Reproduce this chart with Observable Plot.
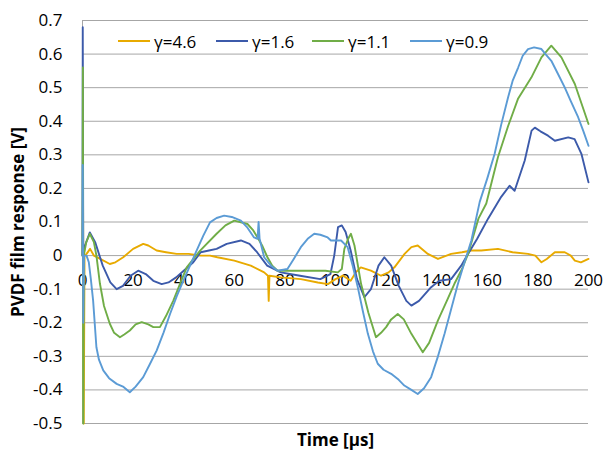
<!DOCTYPE html>
<html><head><meta charset="utf-8">
<script src="https://cdn.jsdelivr.net/npm/d3@7"></script>
<script src="https://cdn.jsdelivr.net/npm/@observablehq/plot@0.6"></script>
<style>
body{margin:0;background:#fff;font-family:"Open Sans",sans-serif;}
#wrap{position:relative;width:603px;height:452px;}
.item{position:absolute;top:29px;height:24px;display:flex;align-items:center;font-size:17px;color:#000;white-space:nowrap;}
.item span.sw{display:inline-block;width:32px;height:2px;margin-right:4px;}
</style></head><body><div id="wrap"></div><script>
const xTicks = [0,20,40,60,80,100,120,140,160,180,200];
const yTicks = [-0.5,-0.4,-0.3,-0.2,-0.1,0,0.1,0.2,0.3,0.4,0.5,0.6,0.7];
const seriesNames = ["γ=4.6","γ=1.6","γ=1.1","γ=0.9"];
const seriesColors = ["#E8AA00","#3C5AAA","#70AD47","#5B9BD5"];

const gamma46 = [[0,0],[0.2,0.2],[0.5,-0.5],[0.8,0.0],[1.6,0.005],[3,0.02],[4.5,0.0],[7,-0.01],[10.8,-0.025],[13,-0.02],[16.1,-0.005],[20,0.02],[24,0.035],[26,0.03],[29.3,0.015],[33,0.01],[37.2,0.005],[42,0.005],[46.7,0.0],[50.4,0.0],[53.3,-0.005],[60,-0.015],[66.5,-0.03],[71.8,-0.05],[73.3,-0.06],[73.6,-0.135],[73.9,-0.06],[78.4,-0.065],[86.3,-0.07],[93,-0.08],[97,-0.085],[100,-0.07],[103,-0.06],[106,-0.075],[108,-0.05],[110,-0.035],[114,-0.045],[118,-0.06],[121,-0.05],[123.3,-0.035],[127.3,0.005],[130,0.025],[132.5,0.03],[136.5,0.005],[140.5,-0.01],[145.7,0.005],[150,0.01],[153.7,0.015],[157.6,0.015],[164.2,0.02],[170,0.01],[176.1,0.005],[179,0.0],[181.4,-0.02],[183.5,-0.01],[186.7,0.01],[190.6,0.01],[193,0.0],[194.6,-0.015],[197,-0.02],[200,-0.01]];

const gamma16 = [[0,0],[0.1,0.68],[0.3,0.0],[1,0.03],[2.9,0.069],[5,0.04],[8,-0.03],[11,-0.08],[13.5,-0.1],[16,-0.09],[19,-0.06],[22,-0.045],[25,-0.055],[28,-0.075],[31.3,-0.085],[34,-0.08],[37,-0.065],[40,-0.045],[43.8,-0.02],[46.7,0.01],[50,0.015],[53,0.02],[57,0.035],[62.6,0.045],[66,0.035],[69,0.01],[73,-0.03],[78.4,-0.05],[86,-0.06],[94,-0.07],[98,-0.055],[99.5,0.0],[101,0.085],[102.5,0.09],[104,0.07],[106,0.015],[108.5,-0.07],[111.4,-0.124],[114,-0.1],[117,-0.03],[119.3,-0.005],[122,-0.03],[125,-0.09],[128,-0.135],[130,-0.149],[133,-0.135],[137.8,-0.094],[141,-0.075],[145.7,-0.07],[149.7,-0.03],[152,0.0],[156,0.05],[160.3,0.11],[165.5,0.175],[168.8,0.208],[170.8,0.193],[174.8,0.283],[177.5,0.372],[178.8,0.381],[181,0.37],[184,0.357],[186.7,0.342],[192,0.352],[194.5,0.347],[197.2,0.303],[200,0.218]];

const gamma11 = [[0,0],[0.15,0.56],[0.3,-0.5],[0.5,0.0],[1.5,0.04],[2.9,0.065],[4.5,0.04],[5.5,0.0],[6.9,-0.084],[8.5,-0.15],[10.8,-0.203],[12.5,-0.23],[14.8,-0.243],[16.5,-0.235],[18.7,-0.223],[21,-0.205],[23.4,-0.198],[26,-0.205],[28,-0.213],[30.6,-0.213],[33,-0.18],[35.9,-0.134],[38.5,-0.085],[41.2,-0.035],[46.5,0.015],[53,0.065],[56.5,0.09],[60,0.104],[65.2,0.094],[67.5,0.075],[69.2,0.054],[71,0.03],[73.1,-0.005],[75,-0.03],[77.1,-0.045],[83.7,-0.045],[91.6,-0.045],[96,-0.045],[100.9,-0.05],[102.5,-0.04],[103.5,0.02],[105,0.05],[106.1,0.065],[107.5,0.03],[110.1,-0.084],[113,-0.17],[116,-0.243],[118,-0.23],[120,-0.213],[122,-0.19],[124.6,-0.174],[127,-0.19],[130,-0.233],[134.5,-0.288],[137,-0.26],[140.5,-0.193],[144,-0.135],[147,-0.084],[150,-0.04],[152.4,0.005],[156.5,0.11],[159.6,0.155],[164.2,0.293],[168.2,0.385],[172.2,0.468],[177.4,0.53],[181.4,0.59],[185.3,0.625],[189.3,0.59],[194.6,0.511],[200,0.392]];

const gamma09 = [[0,0],[0.1,0.27],[0.3,-0.2],[0.6,0.0],[1.6,0.0],[2.5,-0.02],[3.3,-0.07],[4.2,-0.134],[5.5,-0.273],[6.5,-0.31],[8.2,-0.342],[10.5,-0.365],[13.5,-0.382],[16,-0.39],[18.7,-0.407],[21,-0.39],[24,-0.362],[26.5,-0.325],[29.3,-0.283],[32,-0.23],[34.6,-0.174],[37.3,-0.12],[39.9,-0.074],[42.5,-0.03],[45.1,0.015],[47.8,0.06],[50.4,0.099],[53,0.112],[56,0.119],[59,0.115],[62.6,0.104],[65,0.085],[67.8,0.054],[69.2,0.05],[69.6,0.1],[70,0.05],[71.8,-0.005],[74.5,-0.03],[77.1,-0.045],[81,-0.04],[83.5,-0.01],[86.3,0.025],[89,0.05],[91.6,0.065],[94,0.062],[96.9,0.054],[98.2,0.045],[102.2,0.045],[104.8,0.025],[106.8,-0.03],[108.8,-0.094],[110.8,-0.165],[112.8,-0.233],[114.8,-0.285],[116.7,-0.322],[119,-0.34],[122,-0.352],[125,-0.37],[127.2,-0.387],[130,-0.4],[132.5,-0.412],[135,-0.395],[137.8,-0.362],[140.5,-0.3],[143.1,-0.233],[145.7,-0.16],[148.4,-0.084],[151,-0.02],[153.7,0.045],[157,0.16],[160,0.23],[162.9,0.303],[165.5,0.39],[168.2,0.471],[170,0.52],[172.2,0.56],[174,0.595],[176.1,0.615],[178.5,0.62],[181.4,0.615],[183,0.6],[185.3,0.58],[188,0.54],[190.6,0.501],[193,0.46],[195.9,0.412],[198,0.37],[200,0.327]];

const seriesData = [gamma46, gamma16, gamma11, gamma09];

const chart = Plot.plot({
  width: 603, height: 452,
  marginLeft: 82, marginRight: 15, marginTop: 20, marginBottom: 29,
  x: {domain: [0, 200], axis: null},
  y: {domain: [-0.5, 0.7]},
  style: {fontFamily: "Open Sans", fontSize: "17px", color: "#000", background: "transparent"},
  marks: [
    Plot.ruleY(yTicks, {stroke: "#A6A6A6", strokeWidth: 1}),
    Plot.ruleX([0], {stroke: "#A6A6A6", strokeWidth: 1}),
    Plot.axisY(yTicks, {tickSize: 0, tickPadding: 20, tickFormat: d => String(d), label: null, fontSize: 17}),
    Plot.text(xTicks, {x: d => d, y: 0, dy: 25, text: d => String(d), fontSize: 17, fill: "#000"}),
    ...seriesData.map((s, i) => Plot.line(s, {x: d => d[0], y: d => d[1], stroke: seriesColors[i], strokeWidth: 1.9})),
    Plot.text(["PVDF film response [V]"], {frameAnchor: "left", dx: -64, rotate: -90, textAnchor: "middle", fontWeight: "bold", fontSize: 17, fill: "#000"}),
    Plot.text(["Time [μs]"], {frameAnchor: "bottom", dy: 17, lineAnchor: "middle", fontWeight: "bold", fontSize: 17, fill: "#000"})
  ]
});
const wrap = document.getElementById("wrap");
wrap.appendChild(chart);
const legendLeft = [118, 216, 312, 410];
seriesNames.forEach((n, i) => {
  const el = document.createElement("div");
  el.className = "item";
  el.style.left = legendLeft[i] + "px";
  el.innerHTML = `<span class="sw" style="background:${seriesColors[i]}"></span>${n}`;
  wrap.appendChild(el);
});
</script></body></html>
